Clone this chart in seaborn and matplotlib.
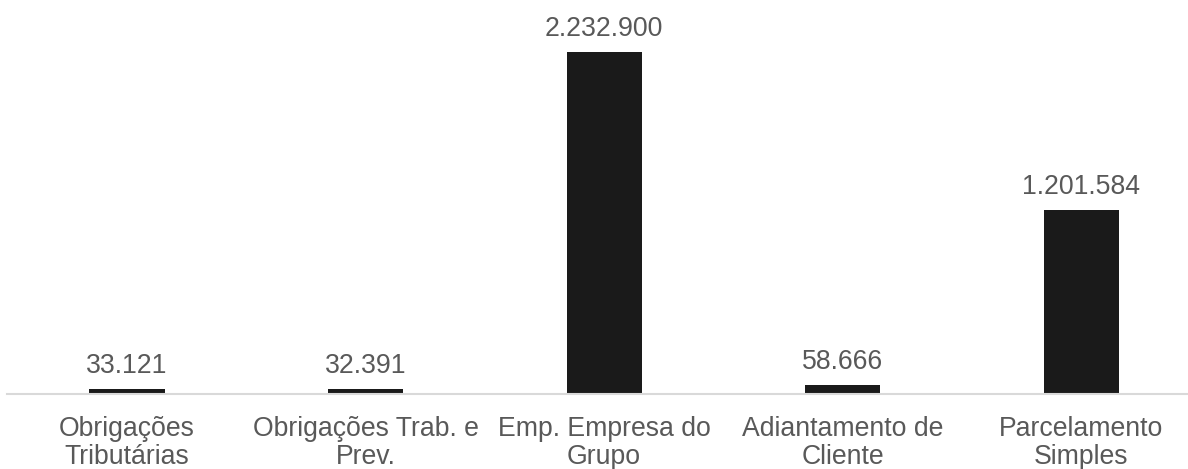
import matplotlib
matplotlib.use("Agg")
import matplotlib.pyplot as plt
import seaborn as sns
import pandas as pd

categories = ["Obrigações\nTributárias", "Obrigações Trab. e\nPrev.", "Emp. Empresa do\nGrupo",
              "Adiantamento de\nCliente", "Parcelamento\nSimples"]
values = [33121, 32391, 2232900, 58666, 1201584]
value_labels = ["33.121", "32.391", "2.232.900", "58.666", "1.201.584"]

sns.set_theme(style="white")
plt.rcParams['font.family'] = ['Liberation Sans', 'DejaVu Sans']

df = pd.DataFrame({"cat": categories, "val": values})

fig = plt.figure(figsize=(11.88, 4.69), dpi=100)
ax = fig.add_axes([7/1188, 75/469, 1181/1188, 394/469])
sns.barplot(data=df, x="cat", y="val", color="#1a1a1a", width=0.315, ax=ax, saturation=1)
for p in ax.patches:
    p.set_edgecolor("none")

ax.set_xlim(-0.503, 4.447)
ax.set_ylim(0, 2572000)
ax.set_xlabel("")
ax.set_ylabel("")
ax.set_yticks([])
for s in ["top", "right", "left"]:
    ax.spines[s].set_visible(False)
ax.spines["bottom"].set_color("#d9d9d9")
ax.spines["bottom"].set_linewidth(1.5)
ax.tick_params(axis="x", length=0, pad=15.5, labelsize=19.2, labelcolor="#595959")
for t in ax.get_xticklabels():
    t.set_linespacing(1.1)

for i, (v, lab) in enumerate(zip(values, value_labels)):
    ax.annotate(lab, (i, v), xytext=(0, 11.5), textcoords="offset points",
                ha="center", va="baseline", fontsize=19.2, color="#595959")

fig.savefig("out.png", dpi=100)
